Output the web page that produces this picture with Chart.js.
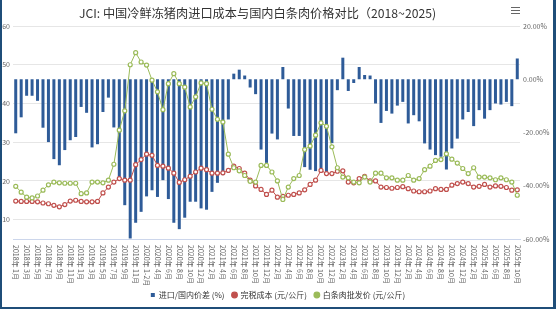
<!DOCTYPE html>
<html>
<head>
<meta charset="utf-8">
<script src="https://cdn.jsdelivr.net/npm/chart.js@4/dist/chart.umd.min.js"></script>
<style>
    html, body { margin: 0; padding: 0; background: #fff; }
    #wrap { position: relative; width: 556px; height: 309px; }
    #frame {
        position: absolute; left: 0; top: 0; width: 556px; height: 309px; box-sizing: border-box;
        border-left: 2px solid #1f4e79; border-right: 3px solid #1f4e79; border-bottom: 2px solid #1f4e79;
        pointer-events: none;
    }
</style>
</head>
<body>
<div id="wrap">
    <canvas id="graph_compare" width="556" height="309"></canvas>
    <div id="frame"></div>
</div>
<script>
    // 月份
    var months = [
        '2018年 1月', '2018年 2月', '2018年 3月', '2018年 4月', '2018年 5月', '2018年 6月',
        '2018年 7月', '2018年 8月', '2018年 9月', '2018年 10月', '2018年 11月', '2018年 12月',
        '2019年 1月', '2019年 2月', '2019年 3月', '2019年 4月', '2019年 5月', '2019年 6月',
        '2019年 7月', '2019年 8月', '2019年 9月', '2019年 10月', '2019年 11月', '2019年 12月',
        '2020年 1-2月', '2020年 3月', '2020年 4月', '2020年 5月', '2020年 6月', '2020年 7月',
        '2020年 8月', '2020年 9月', '2020年 10月', '2020年 11月', '2020年 12月',
        '2021年 1月', '2021年 2月', '2021年 3月', '2021年 4月', '2021年 5月', '2021年 6月',
        '2021年 7月', '2021年 8月', '2021年 9月', '2021年 10月', '2021年 11月', '2021年 12月',
        '2022年 1月', '2022年 2月', '2022年 3月', '2022年 4月', '2022年 5月', '2022年 6月',
        '2022年 7月', '2022年 8月', '2022年 9月', '2022年 10月', '2022年 11月', '2022年 12月',
        '2023年 1月', '2023年 2月', '2023年 3月', '2023年 4月', '2023年 5月', '2023年 6月',
        '2023年 7月', '2023年 8月', '2023年 9月', '2023年 10月', '2023年 11月', '2023年 12月',
        '2024年 1月', '2024年 2月', '2024年 3月', '2024年 4月', '2024年 5月', '2024年 6月',
        '2024年 7月', '2024年 8月', '2024年 9月', '2024年 10月', '2024年 11月', '2024年 12月',
        '2025年 1月', '2025年 2月', '2025年 3月', '2025年 4月', '2025年 5月', '2025年 6月',
        '2025年 7月', '2025年 8月', '2025年 9月', '2025年 10月'
    ];

    // 进口/国内价差 (%)
    var priceGap = [
        -20.3, -14.3, -6.2, -6.2, -8.1, -18.2, -23.6, -30.0, -32.3, -26.6,
        -22.9, -21.7, -10.4, -12.6, -25.6, -24.4, -12.3, -6.9, -18.1, -37.5,
        -47.3, -59.8, -53.9, -49.8, -44.0, -41.7, -44.2, -37.9, -45.0, -53.9,
        -56.3, -52.0, -46.0, -46.0, -48.5, -49.0, -42.3, -38.9, -36.0, -15.1,
        2.1, 3.6, 1.4, -3.1, -5.6, -26.4, -31.4, -20.4, -22.6, 4.6,
        -11.0, -21.3, -21.3, -33.0, -34.0, -34.5, -33.5, -35.0, -24.0, -4.1,
        8.1, -4.4, -1.4, 4.6, 1.6, 1.4, -9.1, -16.4, -11.9, -12.9,
        -9.9, -8.5, -16.6, -13.5, -15.8, -24.1, -26.4, -28.5, -29.1, -33.9,
        -26.0, -22.3, -15.1, -12.3, -17.6, -11.6, -14.8, -11.6, -9.1, -9.5,
        -8.5, -10.1, 7.8
    ];

    // 完税成本 (元/公斤)
    var importCost = [
        14.8, 14.7, 14.7, 14.7, 14.6, 14.3, 14.1, 13.7, 13.3, 13.9,
        14.8, 15.0, 14.7, 14.6, 14.6, 14.7, 16.9, 18.4, 19.7, 20.6,
        20.2, 20.2, 24.2, 25.5, 26.9, 26.6, 24.0, 23.8, 23.3, 22.0,
        19.6, 20.3, 21.2, 22.3, 23.3, 22.9, 22.0, 22.0, 22.1, 22.7,
        23.8, 23.2, 22.0, 20.2, 18.7, 17.8, 16.5, 17.6, 15.8, 16.0,
        16.3, 16.5, 16.9, 17.7, 19.1, 20.2, 22.7, 21.9, 21.9, 22.5,
        22.6, 19.7, 19.5, 20.6, 21.2, 20.0, 20.0, 18.4, 18.3, 18.1,
        18.3, 18.5, 18.0, 17.4, 17.2, 17.2, 17.4, 18.0, 17.8, 17.8,
        18.9, 19.3, 19.7, 19.3, 18.4, 18.6, 19.1, 18.4, 18.7, 18.6,
        18.3, 17.6, 17.7
    ];

    // 白条肉批发价 (元/公斤)
    var wholesalePrice = [
        18.6, 17.1, 15.8, 15.6, 16.1, 17.6, 19.0, 19.7, 19.5, 19.4,
        19.4, 19.4, 16.7, 16.9, 19.7, 19.7, 19.5, 20.2, 24.3, 33.1,
        38.1, 50.0, 53.1, 50.7, 49.9, 46.0, 43.0, 38.4, 45.1, 47.7,
        45.1, 44.2, 39.1, 41.7, 45.3, 45.1, 38.5, 35.9, 35.2, 26.9,
        23.4, 22.6, 21.4, 19.9, 19.7, 24.0, 24.0, 22.3, 20.0, 15.2,
        18.4, 20.6, 21.4, 28.1, 29.0, 31.8, 35.0, 34.1, 28.8, 23.4,
        21.0, 20.8, 19.7, 19.5, 21.0, 19.7, 22.0, 22.0, 20.8, 20.8,
        20.2, 20.2, 21.4, 20.2, 20.6, 22.9, 23.8, 25.3, 25.5, 27.0,
        25.6, 24.6, 23.2, 21.9, 23.4, 21.0, 21.0, 20.8, 20.3, 20.8,
        20.3, 19.7, 16.3
    ];

    var TITLE = 'JCI: 中国冷鲜冻猪肉进口成本与国内白条肉价格对比（2018~2025)';
    var FONT = '"Noto Sans CJK SC", "Noto Sans", sans-serif';

    // 제목, x축 라벨(세로), 메뉴 아이콘
    var extraDraw = {
        id: 'extraDraw',
        afterDraw: function (chart) {
            var ctx = chart.ctx;
            var xs = chart.scales.x;
            ctx.save();
            ctx.font = '12.2px ' + FONT;
            ctx.fillStyle = '#333';
            ctx.textAlign = 'center';
            ctx.textBaseline = 'middle';
            ctx.fillText(TITLE, 257.5, 13);

            ctx.font = '7px ' + FONT;
            ctx.fillStyle = '#666';
            ctx.textAlign = 'left';
            for (var i = 0; i < months.length; i += 2) {
                var x = xs.getPixelForTick(i);
                ctx.save();
                ctx.translate(x, xs.top + 6);
                ctx.rotate(Math.PI / 2);
                ctx.fillText(months[i], 0, 0);
                ctx.restore();
            }

            ctx.strokeStyle = '#666';
            ctx.lineWidth = 1;
            for (var k = 0; k < 3; k++) {
                ctx.beginPath();
                ctx.moveTo(511, 7.5 + k * 3);
                ctx.lineTo(520, 7.5 + k * 3);
                ctx.stroke();
            }
            ctx.restore();
        }
    };

    var ctx = document.getElementById('graph_compare').getContext('2d');
    var compareChart = new Chart(ctx, {
        type: 'bar',
        data: {
            labels: months,
            datasets: [{
                type: 'bar',
                label: '进口/国内价差 (%)',
                data: priceGap,
                yAxisID: 'yPct',
                backgroundColor: '#2e5b98',
                barPercentage: 0.55,
                categoryPercentage: 1,
                pointStyle: 'rect',
                order: 3
            }, {
                type: 'line',
                label: '完税成本 (元/公斤)',
                data: importCost,
                yAxisID: 'yPrice',
                borderColor: '#c0504d',
                backgroundColor: '#c0504d',
                pointBackgroundColor: '#fff',
                pointBorderColor: '#c0504d',
                pointRadius: 2,
                pointBorderWidth: 1.2,
                borderWidth: 1,
                tension: 0,
                pointStyle: 'circle',
                order: 2
            }, {
                type: 'line',
                label: '白条肉批发价 (元/公斤)',
                data: wholesalePrice,
                yAxisID: 'yPrice',
                borderColor: '#9bbb59',
                backgroundColor: '#9bbb59',
                pointBackgroundColor: '#fff',
                pointBorderColor: '#9bbb59',
                pointRadius: 2,
                pointBorderWidth: 1.2,
                borderWidth: 1,
                tension: 0,
                pointStyle: 'circle',
                order: 1
            }]
        },
        options: {
            responsive: false,
            animation: false,
            layout: { padding: { top: 26, bottom: 0, left: 0, right: 0 } },
            plugins: {
                title: { display: false },
                legend: {
                    position: 'bottom',
                    labels: {
                        usePointStyle: true,
                        boxWidth: 4,
                        boxHeight: 4,
                        padding: 8,
                        color: '#333',
                        font: { family: FONT, size: 8 },
                        sort: function (a, b) { return a.datasetIndex - b.datasetIndex; },
                        generateLabels: function (chart) {
                            var items = Chart.defaults.plugins.legend.labels.generateLabels(chart);
                            items.forEach(function (it) {
                                it.fillStyle = chart.data.datasets[it.datasetIndex].backgroundColor;
                                it.strokeStyle = it.fillStyle;
                            });
                            return items;
                        }
                    }
                },
                tooltip: { enabled: false }
            },
            scales: {
                x: {
                    grid: { display: false },
                    border: { display: true, color: '#ccd6eb' },
                    ticks: { display: false },
                    afterFit: function (scale) { scale.height = 44; }
                },
                yPrice: {
                    position: 'left',
                    min: 5,
                    max: 60,
                    ticks: {
                        stepSize: 10,
                        padding: 3,
                        color: '#666',
                        font: { family: FONT, size: 7 },
                        callback: function (v) { return v % 10 === 0 ? v : ''; }
                    },
                    grid: { color: '#e6e6e6', drawTicks: false },
                    border: { display: false },
                    afterFit: function (scale) { scale.width = 13; }
                },
                yPct: {
                    position: 'right',
                    min: -60,
                    max: 20,
                    ticks: {
                        stepSize: 20,
                        padding: 3,
                        color: '#666',
                        font: { family: FONT, size: 7 },
                        callback: function (v) { return v.toFixed(2) + '%'; }
                    },
                    grid: { display: false, drawTicks: false },
                    border: { display: false },
                    afterFit: function (scale) { scale.width = 36; }
                }
            }
        },
        plugins: [extraDraw]
    });
</script>
</body>
</html>
